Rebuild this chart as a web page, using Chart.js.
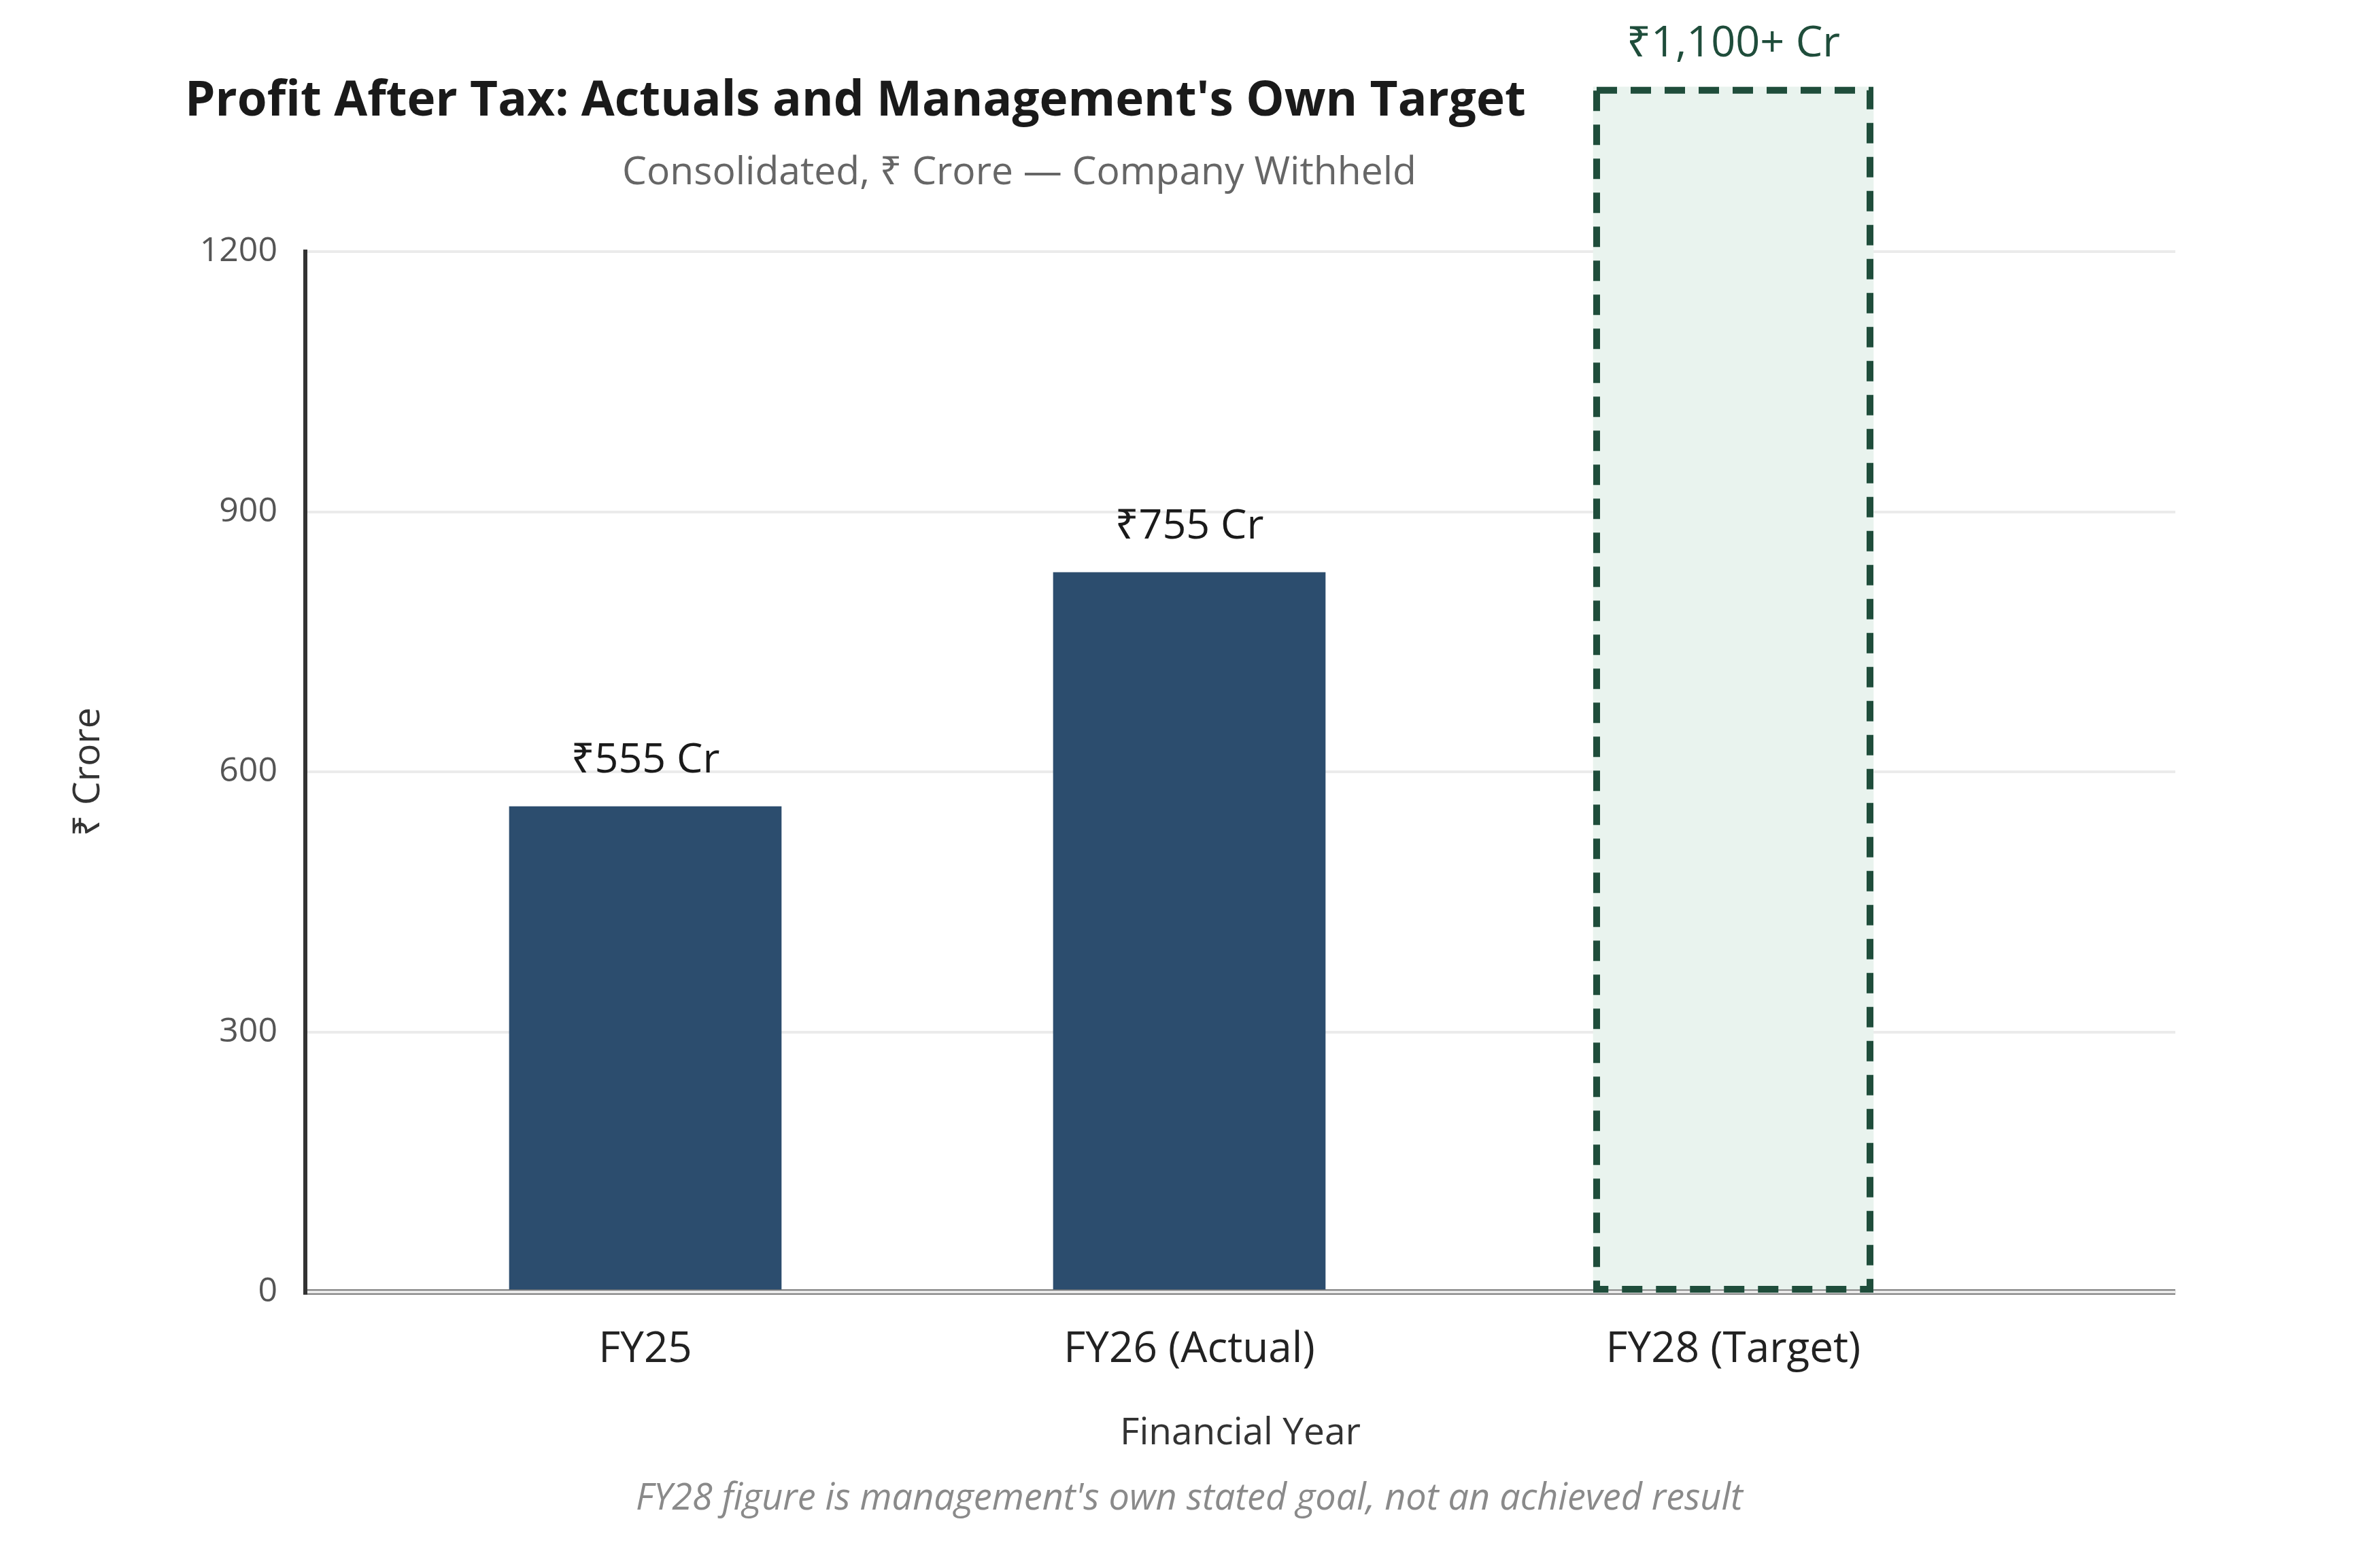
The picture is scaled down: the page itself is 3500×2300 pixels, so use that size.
<!DOCTYPE html>
<html lang="en">
<head>
<meta charset="utf-8">
<title>Profit After Tax: Actuals and Management's Own Target</title>
<script src="https://cdn.jsdelivr.net/npm/chart.js@4.4.1/dist/chart.umd.min.js"></script>
<style>
  html, body { margin: 0; padding: 0; background: #ffffff; }
  #wrap { width: 3500px; height: 2300px; position: relative; }
</style>
</head>
<body>
<div id="wrap"><canvas id="pat-chart"></canvas></div>
<script>
// Dữ liệu
const categories = ["FY25", "FY26 (Actual)", "FY28 (Target)"];
const patValues = [560, 830, 1390];
const valueLabels = ["₹555 Cr", "₹755 Cr", "₹1,100+ Cr"];
const yTicks = [0, 300, 600, 900, 1200];
const targetIndex = 2;

const FONT = "'Open Sans', 'Noto Sans', sans-serif";
Chart.defaults.font.family = FONT;

// Tách thanh thực tế và thanh mục tiêu
const actualPoints = [];
const targetPoints = [];
categories.forEach((c, i) => {
    const point = { x: i, y: patValues[i] };
    if (i === targetIndex) {
        targetPoints.push(point);
    } else {
        actualPoints.push(point);
    }
});

// Plugin vẽ viền nét đứt, nhãn giá trị, tiêu đề và chú thích
const annotatePlugin = {
    id: "annotate",
    afterDatasetsDraw(chart) {
        const ctx = chart.ctx;

        // viền nét đứt cho thanh FY28
        const tBar = chart.getDatasetMeta(1).data[0];
        if (tBar) {
            const lw = 10;
            const left = tBar.x - tBar.width / 2;
            ctx.save();
            ctx.strokeStyle = "#1f4d3b";
            ctx.lineWidth = lw;
            ctx.setLineDash([30, 20]);
            ctx.strokeRect(left + lw / 2, tBar.y + lw / 2, tBar.width - lw, tBar.base - tBar.y - lw / 2);
            ctx.restore();
        }

        // nhãn giá trị trên mỗi thanh
        ctx.save();
        ctx.textAlign = "center";
        ctx.textBaseline = "alphabetic";
        chart.data.datasets.forEach((ds, d) => {
            const meta = chart.getDatasetMeta(d);
            meta.data.forEach((bar, j) => {
                const idx = ds.data[j].x;
                const isTarget = idx === targetIndex;
                ctx.fillStyle = isTarget ? "#1f4d3b" : "#1a1a1a";
                ctx.font = "400 " + (isTarget ? 63 : 61) + "px " + FONT;
                ctx.fillText(valueLabels[idx], bar.x, bar.y - (isTarget ? 45 : 50));
            });
        });
        ctx.restore();
    },
    afterDraw(chart) {
        const ctx = chart.ctx;
        ctx.save();
        ctx.textBaseline = "alphabetic";

        ctx.fillStyle = "#1a1a1a";
        ctx.font = "700 71px " + FONT;
        ctx.textAlign = "left";
        ctx.fillText("Profit After Tax: Actuals and Management's Own Target", 272, 170);

        ctx.fillStyle = "#666666";
        ctx.font = "400 57px " + FONT;
        ctx.textAlign = "center";
        ctx.fillText("Consolidated, ₹ Crore — Company Withheld", 1499, 271);

        ctx.fillStyle = "#8a8a8a";
        ctx.font = "italic 400 54px " + FONT;
        ctx.fillText("FY28 figure is management's own stated goal, not an achieved result", 1749, 2220);
        ctx.restore();
    }
};

const ctx = document.getElementById("pat-chart").getContext("2d");

new Chart(ctx, {
    type: "bar",
    data: {
        datasets: [
            {
                label: "Actual",
                data: actualPoints,
                backgroundColor: "#2c4d6e",
                borderWidth: 0,
                barThickness: 400,
                clip: false
            },
            {
                label: "Target",
                data: targetPoints,
                backgroundColor: "#e9f3ee",
                borderWidth: 0,
                barThickness: 412,
                clip: false
            }
        ]
    },
    options: {
        responsive: true,
        maintainAspectRatio: false,
        animation: false,
        grouped: false,
        layout: {
            padding: { left: 60, right: 301, top: 370, bottom: 0 }
        },
        plugins: {
            legend: { display: false },
            tooltip: { enabled: false }
        },
        scales: {
            x: {
                type: "linear",
                offset: false,
                min: -0.625,
                max: 2.8125,
                afterBuildTicks: (axis) => {
                    axis.ticks = categories.map((c, i) => ({ value: i }));
                },
                afterFit: (axis) => {
                    axis.height = 400;
                },
                grid: { display: false },
                border: { display: true, color: "#e9e9e9", width: 4 },
                ticks: {
                    padding: 40,
                    maxRotation: 0,
                    autoSkip: false,
                    color: "#222222",
                    font: { size: 62 },
                    callback: (v) => categories[v]
                },
                title: {
                    display: true,
                    text: "Financial Year",
                    color: "#333333",
                    font: { size: 55 },
                    padding: { top: 0, bottom: 159 }
                }
            },
            y: {
                min: 0,
                max: 1200,
                afterBuildTicks: (axis) => {
                    axis.ticks = yTicks.map((v) => ({ value: v }));
                },
                afterFit: (axis) => {
                    axis.width = 389;
                },
                grid: {
                    drawTicks: false,
                    color: (c) => (c.tick && c.tick.value === 0 ? "#7d7d7d" : "#ebebeb"),
                    lineWidth: (c) => (c.tick && c.tick.value === 0 ? 8 : 4)
                },
                border: { display: true, color: "#333333", width: 6 },
                ticks: {
                    padding: 41,
                    color: "#555555",
                    font: { size: 50 },
                    callback: (v) => String(v)
                },
                title: {
                    display: true,
                    text: "₹ Crore",
                    color: "#333333",
                    font: { size: 55 },
                    padding: { top: 37, bottom: 0 }
                }
            }
        }
    },
    plugins: [annotatePlugin]
});
</script>
</body>
</html>
